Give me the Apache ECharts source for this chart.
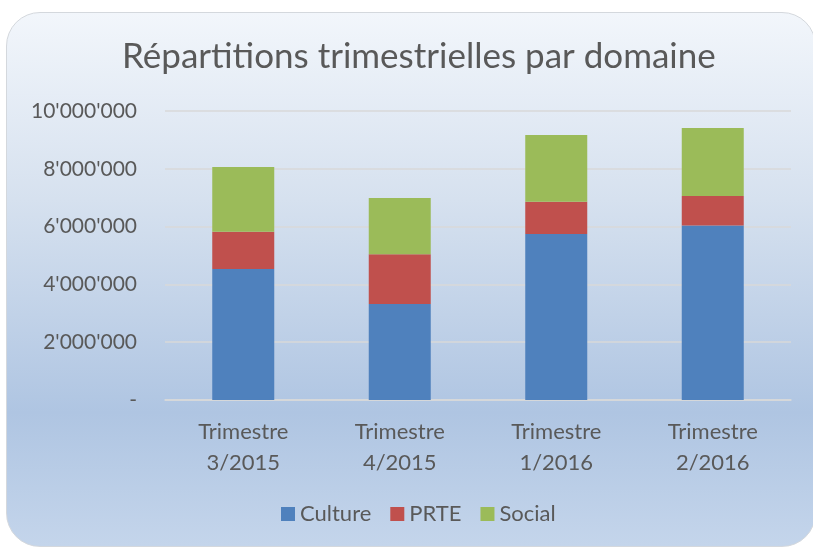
<!DOCTYPE html>
<html>
<head>
<meta charset="utf-8">
<script src="https://cdn.jsdelivr.net/npm/echarts@6/dist/echarts.min.js"></script>
<style>
html,body{margin:0;padding:0;background:#ffffff;}
#wrap{position:absolute;left:6px;top:12px;width:810px;height:535px;border:1.5px solid #d4d8dd;border-radius:34px;
background:linear-gradient(to bottom,#f2f6fb 0%,#d6e1ef 35%,#afc5e2 75%,#c4d5eb 100%);box-sizing:border-box;}
#chart{position:absolute;left:0;top:0;width:813px;height:547px;}
</style>
</head>
<body>
<div id="wrap"></div>
<div id="chart"></div>
<script>
const categories = ['Trimestre\n3/2015', 'Trimestre\n4/2015', 'Trimestre\n1/2016', 'Trimestre\n2/2016'];
const culture = [4530000, 3320000, 5740000, 6040000];
const prte = [1290000, 1720000, 1120000, 1020000];
const social = [2240000, 1950000, 2310000, 2350000];
const seriesNames = ['Culture', 'PRTE', 'Social'];
const colors = ['#4f81bd', '#c0504d', '#9bbb59'];

function fmt(v) {
  if (v === 0) return '-';
  return String(Math.round(v)).replace(/\B(?=(\d{3})+(?!\d))/g, "'");
}

const chart = echarts.init(document.getElementById('chart'), null, {renderer: 'canvas'});
const font = 'Lato, "Open Sans", sans-serif';
chart.setOption({
  backgroundColor: 'transparent',
  animation: false,
  title: {
    text: 'Répartitions trimestrielles par domaine',
    left: 117,
    top: 34,
    textStyle: {fontFamily: font, fontSize: 35, fontWeight: 'normal', color: '#595959'}
  },
  legend: {
    data: seriesNames,
    bottom: 17,
    left: 276,
    itemWidth: 14,
    itemHeight: 14,
    itemGap: 19,
    icon: 'rect',
    textStyle: {fontFamily: font, fontSize: 22, color: '#595959', padding: [0,0,0,0]}
  },
  grid: {left: 165, right: 22, top: 111, bottom: 147},
  xAxis: {
    type: 'category',
    data: categories,
    axisLine: {show: true, lineStyle: {color: '#d9d9d9', width: 1.5}},
    axisTick: {show: false},
    axisLabel: {fontFamily: font, fontSize: 22, color: '#595959', lineHeight: 31, margin: 16}
  },
  yAxis: {
    type: 'value',
    min: 0,
    max: 10000000,
    interval: 2000000,
    axisLine: {show: false},
    axisTick: {show: false},
    splitLine: {lineStyle: {color: '#d9d9d9', width: 1.5}},
    axisLabel: {fontFamily: font, fontSize: 21, color: '#595959', margin: 28, formatter: fmt}
  },
  series: [
    {name: seriesNames[0], type: 'bar', stack: 'a', data: culture, barWidth: 62, itemStyle: {color: colors[0]}},
    {name: seriesNames[1], type: 'bar', stack: 'a', data: prte, barWidth: 62, itemStyle: {color: colors[1]}},
    {name: seriesNames[2], type: 'bar', stack: 'a', data: social, barWidth: 62, itemStyle: {color: colors[2]}}
  ]
});
</script>
</body>
</html>
